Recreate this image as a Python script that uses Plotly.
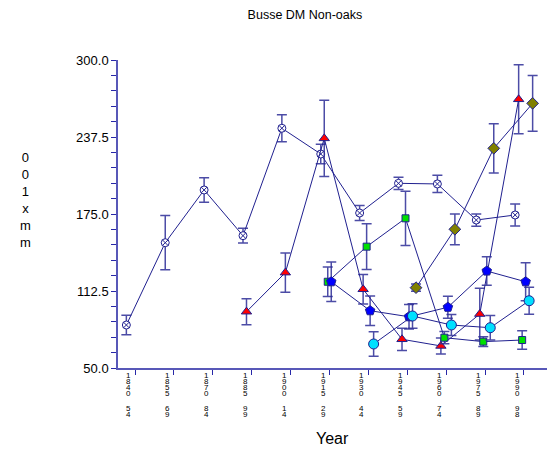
import plotly.graph_objects as go

# Year-range categories (drawn as stacked characters, like the original)
periods = ['1840-54', '1855-69', '1870-84', '1885-99', '1900-14', '1915-29',
           '1930-44', '1945-59', '1960-74', '1975-89', '1990-98']

# series values, None where a series has no data
s1_vals = [84.9, 151.7, 194.5, 157.4, 244.6, 223.7, 175.8, 199.9, 199.4, 170.1, 174.2]
s1_err = [8, 22, 10, 6, 11, 8, 6, 5, 7, 5, 9]
s2_vals = [None, None, None, 95.7, 127.4, 236.4, 113.9, 73.3, 67.9, 93.8, 268.1]
s2_err = [0, 0, 0, 10.5, 16, 31, 12, 9, 6.5, 21, 28]
s3_vals = [None, None, None, None, None, 120.0, 148.5, 171.5, 74.6, 71.4, 72.7]
s3_err = [0, 0, 0, 0, 0, 12, 18.5, 22, 5, 4, 7.5]
s4_vals = [None, None, None, None, None, 120.0, 96.5, 91.6, 99.3, 128.7, 120.0]
s4_err = [0, 0, 0, 0, 0, 16, 12, 10, 9, 11.5, 15.5]
s5_vals = [None, None, None, None, None, None, 69.5, 92.2, 84.9, 82.7, 104.6]
s5_err = [0, 0, 0, 0, 0, 0, 10, 10, 8.5, 10, 11]
s6_vals = [None, None, None, None, None, None, None, 115.2, 162.6, 228.3, 264.8]
s6_err = [0, 0, 0, 0, 0, 0, 0, 3, 12.5, 20, 22.7]

y_major = [50.0, 112.5, 175.0, 237.5, 300.0]

LINE = '#20208f'
ERR = 'rgba(45,45,150,0.85)'
AXIS = '#5858b8'
TICK = '#2828a8'
FONT = 'Liberation Sans, Arial, sans-serif'


def series_trace(vals, err, offset, symbol, fill, size):
    xs, ys, es = [], [], []
    for i, v in enumerate(vals):
        if v is None:
            continue
        xs.append(i + offset)
        ys.append(v)
        es.append(err[i])
    return go.Scatter(
        x=xs, y=ys,
        mode='lines+markers',
        line=dict(color=LINE, width=1),
        marker=dict(symbol=symbol, size=size, color=fill,
                    line=dict(color=LINE, width=1)),
        error_y=dict(type='data', array=es, color=ERR, thickness=1.5, width=5),
        showlegend=False,
    )


data = [
    series_trace(s1_vals, s1_err, -0.225, 'circle-x', 'white', 8),
    series_trace(s2_vals, s2_err, -0.135, 'triangle-up', '#ff0000', 9),
    series_trace(s3_vals, s3_err, -0.045, 'square', '#00e000', 7),
    series_trace(s4_vals, s4_err, 0.045, 'pentagon', '#0000ff', 10),
    series_trace(s5_vals, s5_err, 0.135, 'circle', '#00e0ff', 10),
    series_trace(s6_vals, s6_err, 0.225, 'diamond', '#808000', 9),
]

# x tick labels: one character per row, the dash left as a gap
annotations = []
for i, p in enumerate(periods):
    for k, ch in enumerate(p):
        if ch == '-':
            continue
        shift = 7 + 6.2 * k + (2.5 if k > 4 else 0)
        annotations.append(dict(
            text=ch, x=i - 0.167, xref='x', y=0, yref='paper',
            yanchor='middle', xanchor='center', yshift=-shift,
            showarrow=False, font=dict(size=8, color='black'),
        ))

# axis titles
annotations.append(dict(
    text='Year', x=0.498, xref='paper', y=0, yref='paper', yshift=-70,
    xanchor='center', yanchor='middle', showarrow=False, font=dict(size=16),
))
annotations.append(dict(
    text='0<br>0<br>1<br>x<br>m<br>m', x=-0.216, xref='paper', y=0.545, yref='paper',
    xanchor='center', yanchor='middle', showarrow=False, font=dict(size=13),
))

# page body adds an 8px offset, so margins are trimmed to compensate
layout = go.Layout(
    width=555, height=452,
    margin=dict(l=110, r=15, t=52, b=92),
    paper_bgcolor='white', plot_bgcolor='white',
    font=dict(family=FONT, color='black'),
    title=dict(text='Busse DM Non-oaks', x=0.535, xanchor='center', y=0.985,
               yanchor='middle', font=dict(size=12.5)),
    xaxis=dict(
        range=[-0.44, 10.62],
        tickvals=list(range(len(periods))),
        showticklabels=False,
        ticks='outside', ticklen=5, tickcolor=TICK,
        showline=True, linecolor=AXIS, linewidth=1.5,
        showgrid=False, zeroline=False,
    ),
    yaxis=dict(
        range=[50, 300],
        tickvals=y_major,
        ticktext=['%.1f' % v for v in y_major],
        ticks='outside', ticklen=5, tickcolor=TICK,
        minor=dict(dtick=12.5, tick0=50, ticks='outside', ticklen=5, tickcolor=TICK),
        showline=True, linecolor=AXIS, linewidth=1.5,
        showgrid=False, zeroline=False,
        tickfont=dict(size=13),
    ),
    annotations=annotations,
)

fig = go.Figure(data=data, layout=layout)
fig.write_html('out.html')
